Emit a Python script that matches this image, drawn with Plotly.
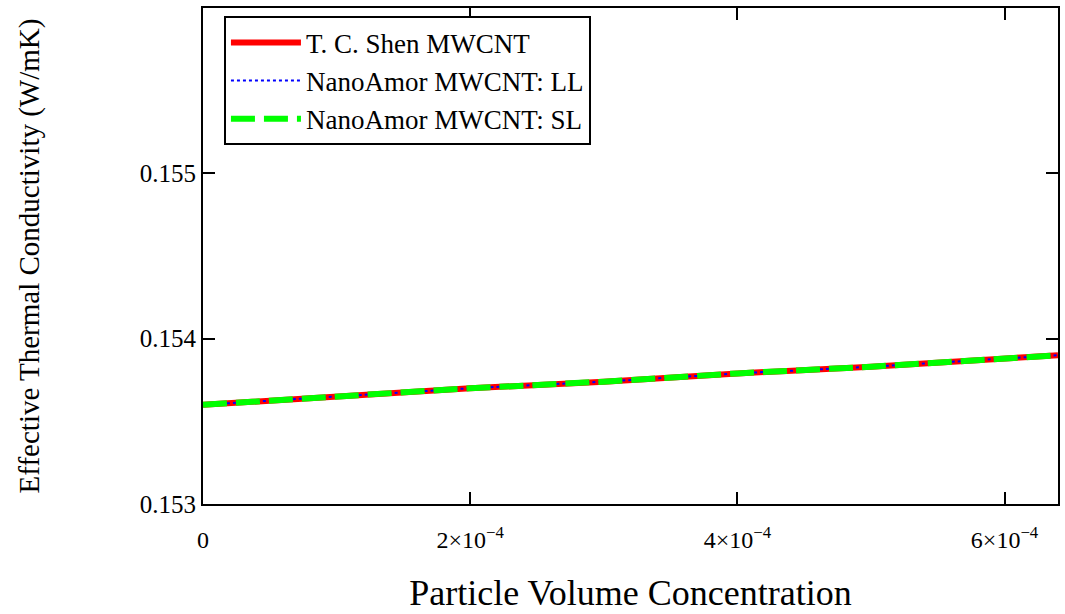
import plotly.graph_objects as go

# Data
conc = [0, 1e-4, 2e-4, 3e-4, 4e-4, 5e-4, 6e-4, 6.4e-4]
k_shen = [0.15360, 0.15365, 0.15370, 0.15374, 0.15379, 0.15383, 0.15388, 0.15390]
k_ll = [0.15360, 0.15365, 0.15370, 0.15374, 0.15379, 0.15383, 0.15388, 0.15390]
k_sl = [0.15360, 0.15365, 0.15370, 0.15374, 0.15379, 0.15383, 0.15388, 0.15390]

x_tickvals = [0, 2e-4, 4e-4, 6e-4]
x_ticktext = ["0", "2×10<sup>−4</sup>", "4×10<sup>−4</sup>", "6×10<sup>−4</sup>"]
y_tickvals = [0.153, 0.154, 0.155]
y_ticktext = ["0.153", "0.154", "0.155"]

FONT = "Liberation Serif, Times New Roman, serif"

fig = go.Figure()
fig.add_trace(go.Scatter(x=conc, y=k_shen, mode="lines", name="T. C. Shen MWCNT",
                         line=dict(color="#ff0000", width=6, dash="solid")))
fig.add_trace(go.Scatter(x=conc, y=k_ll, mode="lines", name="NanoAmor MWCNT: LL",
                         line=dict(color="#0000ff", width=2, dash="dot")))
fig.add_trace(go.Scatter(x=conc, y=k_sl, mode="lines", name="NanoAmor MWCNT: SL",
                         line=dict(color="#00ff00", width=6, dash="24px,9px")))

axis_common = dict(showline=True, linecolor="black", linewidth=2, mirror="ticks",
                   ticks="inside", ticklen=12, tickwidth=2, tickcolor="black",
                   showgrid=False, zeroline=False)

fig.update_layout(
    width=1065, height=614,
    margin=dict(l=203, r=5, t=8, b=110),
    paper_bgcolor="white", plot_bgcolor="white",
    font=dict(family=FONT, color="black"),
    xaxis=dict(range=[0, 6.4e-4], tickvals=x_tickvals, ticktext=x_ticktext,
               tickfont=dict(size=24, family=FONT), ticklabelstandoff=13,
               title=dict(text="Particle Volume Concentration",
                          font=dict(size=36, family=FONT), standoff=28),
               **axis_common),
    yaxis=dict(range=[0.153, 0.156], tickvals=y_tickvals, ticktext=y_ticktext,
               tickfont=dict(size=25, family=FONT),
               title=dict(text="Effective Thermal Conductivity (W/mK)",
                          font=dict(size=29, family=FONT), standoff=92),
               **axis_common),
    legend=dict(x=0.0245, y=0.983, xanchor="left", yanchor="top",
                bgcolor="white", bordercolor="black", borderwidth=2,
                font=dict(size=27, family=FONT), tracegroupgap=0,
                itemwidth=70),
    showlegend=True,
)

fig.write_html("out.html")
